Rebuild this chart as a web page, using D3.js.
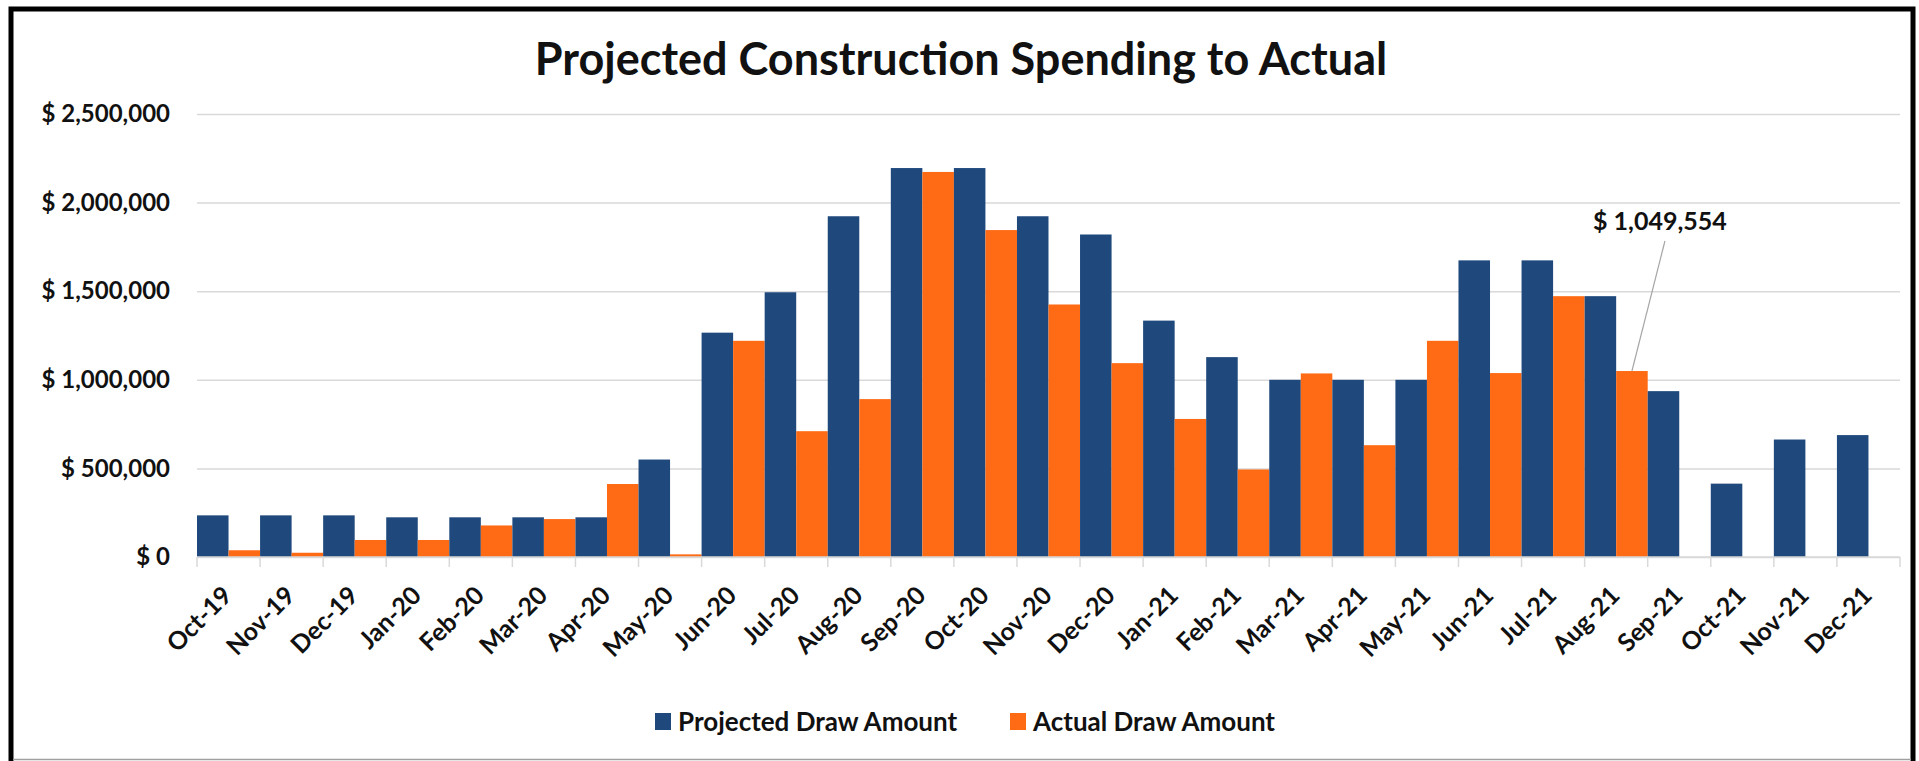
<!DOCTYPE html>
<html>
<head>
<meta charset="utf-8">
<script src="https://cdn.jsdelivr.net/npm/d3@7"></script>
<style>
  body { margin: 0; background: #fff; }
  svg text { font-family: Lato, "Open Sans", sans-serif; font-weight: bold; fill: #111; }
</style>
</head>
<body>
<div id="container"></div>
<script>
const w = 1919;
const h = 761;

const months = ["Oct-19", "Nov-19", "Dec-19", "Jan-20", "Feb-20", "Mar-20", "Apr-20", "May-20",
  "Jun-20", "Jul-20", "Aug-20", "Sep-20", "Oct-20", "Nov-20", "Dec-20", "Jan-21", "Feb-21",
  "Mar-21", "Apr-21", "May-21", "Jun-21", "Jul-21", "Aug-21", "Sep-21", "Oct-21", "Nov-21", "Dec-21"];
const projected = [235000, 235000, 235000, 224000, 224000, 224000, 224000, 550000,
  1266000, 1494000, 1923000, 2195000, 2195000, 1923000, 1820000, 1334000, 1128000,
  1000000, 1000000, 1000000, 1674000, 1674000, 1472000, 936000, 414000, 663000, 688000];
const actual = [38000, 24000, 96000, 96000, 178000, 214000, 412000, 15000,
  1220000, 710000, 891000, 2173000, 1845000, 1425000, 1094000, 779000, 494000,
  1036000, 631000, 1220000, 1038000, 1472000, 1049554, null, null, null, null];
const seriesNames = ["Projected Draw Amount", "Actual Draw Amount"];
const colors = ["#1f497d", "#fe6b14"];
const yTicks = [0, 500000, 1000000, 1500000, 2000000, 2500000];
const labelIndex = 22; // Aug-21 actual is called out

const rows = months.map((m, i) => ({ month: m, values: [projected[i], actual[i]] }));

const svg = d3.select("#container").append("svg")
              .attr("width", w).attr("height", h);

// frame
svg.append("rect").attr("x", 11).attr("y", 9).attr("width", 1902).attr("height", 800)
   .attr("fill", "none").attr("stroke", "#000").attr("stroke-width", 5);
svg.append("line").attr("x1", 13).attr("x2", 1911).attr("y1", 759.5).attr("y2", 759.5)
   .attr("stroke", "#a0a0a0").attr("stroke-width", 1.5);

svg.append("text").attr("x", 961).attr("y", 75)
   .attr("text-anchor", "middle").style("font-size", "45px")
   .text("Projected Construction Spending to Actual");

const scaleX = d3.scaleBand().domain(months).range([197, 1900]).padding(0);
const scaleSub = d3.scaleBand().domain([0, 1]).range([0, scaleX.bandwidth()]).padding(0);
const scaleY = d3.scaleLinear().domain([0, 2500000]).range([557, 114]);

// gridlines + y labels
const yAxis = d3.axisLeft(scaleY).tickValues(yTicks)
  .tickSize(-(1900 - 197)).tickPadding(27)
  .tickFormat(d => "$ " + d3.format(",")(d));
svg.append("g").attr("transform", "translate(197,0)").call(yAxis)
   .call(g => g.select(".domain").remove())
   .call(g => g.selectAll("line").attr("stroke", "#d9d9d9").attr("stroke-width", 1.5))
   .call(g => g.selectAll("text").style("font-size", "24px").attr("fill", "#111")
               .style("font-family", "Lato, sans-serif").style("font-weight", "bold"));

// bars
const groups = svg.selectAll("g.month").data(rows).enter().append("g")
   .attr("class", "month")
   .attr("transform", d => "translate(" + scaleX(d.month) + ",0)");
groups.selectAll("rect").data(d => d.values.map((v, k) => ({ k: k, v: v })).filter(e => e.v != null))
   .enter().append("rect")
   .attr("x", e => scaleSub(e.k))
   .attr("y", e => scaleY(e.v))
   .attr("width", scaleSub.bandwidth())
   .attr("height", e => scaleY(0) - scaleY(e.v))
   .attr("fill", e => colors[e.k]);

// x axis line and ticks at category boundaries
svg.append("line").attr("x1", 197).attr("x2", 1900)
   .attr("y1", scaleY(0)).attr("y2", scaleY(0))
   .attr("stroke", "#d9d9d9").attr("stroke-width", 1.5);
const bounds = months.map(m => scaleX(m)).concat([scaleX.range()[1]]);
svg.selectAll("line.xtick").data(bounds).enter().append("line")
   .attr("class", "xtick")
   .attr("x1", d => d).attr("x2", d => d)
   .attr("y1", scaleY(0)).attr("y2", scaleY(0) + 10)
   .attr("stroke", "#d9d9d9").attr("stroke-width", 1.5);

svg.selectAll("text.xlabel").data(months).enter().append("text")
   .attr("class", "xlabel")
   .attr("text-anchor", "end")
   .style("font-size", "25px")
   .attr("transform", d => "translate(" + (scaleX(d) + scaleX.bandwidth() / 2 + 5) + ",597) rotate(-45)")
   .text(d => d);

// data callout
const cx = scaleX(months[labelIndex]) + scaleSub(1) + scaleSub.bandwidth() / 2;
const cy = scaleY(actual[labelIndex]);
svg.append("line").attr("x1", cx).attr("y1", cy).attr("x2", cx + 33).attr("y2", cy - 130)
   .attr("stroke", "#a6a6a6").attr("stroke-width", 1.2);
svg.append("text").attr("x", cx + 28).attr("y", cy - 141)
   .attr("text-anchor", "middle").style("font-size", "25px")
   .text("$ " + d3.format(",")(actual[labelIndex]));

// legend
const legendX = [655, 1010];
const legend = svg.selectAll("g.legend").data(seriesNames).enter().append("g")
   .attr("class", "legend")
   .attr("transform", (d, i) => "translate(" + legendX[i] + ",713)");
legend.append("rect").attr("width", 16).attr("height", 17).attr("fill", (d, i) => colors[i]);
legend.append("text").attr("x", 23).attr("y", 18).style("font-size", "26px").text(d => d);
</script>
</body>
</html>
